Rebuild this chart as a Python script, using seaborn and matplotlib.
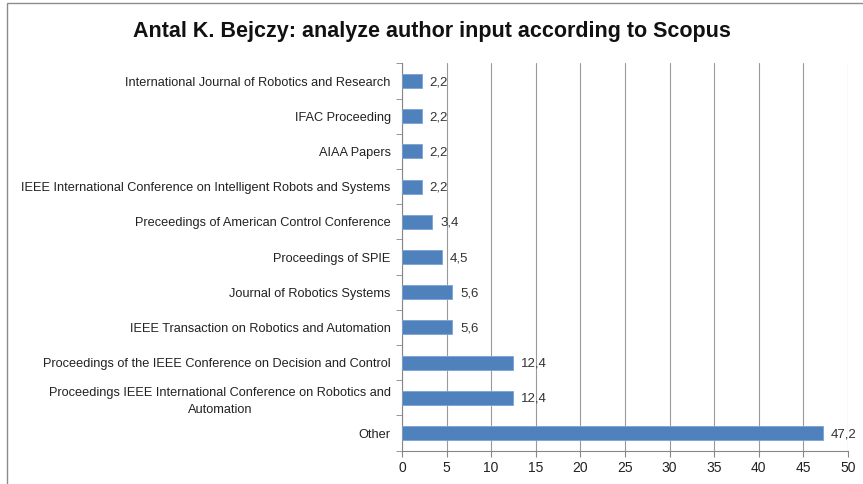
import pandas as pd
import seaborn as sns
import matplotlib.pyplot as plt
from matplotlib.patches import Rectangle

sources = [
    "International Journal of Robotics and Research",
    "IFAC Proceeding",
    "AIAA Papers",
    "IEEE International Conference on Intelligent Robots and Systems",
    "Preceedings of American Control Conference",
    "Proceedings of SPIE",
    "Journal of Robotics Systems",
    "IEEE Transaction on Robotics and Automation",
    "Proceedings of the IEEE Conference on Decision and Control",
    "Proceedings IEEE International Conference on Robotics and\nAutomation",
    "Other",
]
shares = [2.2, 2.2, 2.2, 2.2, 3.4, 4.5, 5.6, 5.6, 12.4, 12.4, 47.2]
x_ticks = [0, 5, 10, 15, 20, 25, 30, 35, 40, 45, 50]

sns.set_style("white")
plt.rcParams['font.family'] = ['Liberation Sans', 'DejaVu Sans']

df = pd.DataFrame({"source": sources, "share": shares})

fig = plt.figure(figsize=(8.63, 4.84), dpi=100)
ax = fig.add_axes([0.4658, 0.069, 0.5168, 0.8])

# outer chart frame like the spreadsheet export
fig.patches.append(Rectangle((0.008, -0.05), 1.2, 1.044, transform=fig.transFigure,
                             fill=False, edgecolor="#8c8c8c", linewidth=1.0))

sns.barplot(data=df, x="share", y="source", orient="h", color="#4F81BD", saturation=1,
            width=0.4, edgecolor="#7aa3d6", linewidth=0.6, ax=ax, zorder=3)

for i, v in enumerate(shares):
    ax.text(v + 0.9, i + 0.03, f"{v:.1f}".replace(".", ","), va="center", ha="left",
            fontsize=9.5, color="#333333")

ax.set_xlim(0, 50)
ax.set_ylim(len(sources) - 0.5, -0.5)
ax.set_xticks(x_ticks)
ax.set_xlabel("")
ax.set_ylabel("")
ax.grid(axis="x", color="#9a9a9a", linewidth=0.8, zorder=0)
ax.grid(axis="y", visible=False)

for s in ["top", "right"]:
    ax.spines[s].set_visible(False)
ax.spines["left"].set_color("#868686")
ax.spines["bottom"].set_color("#868686")

ax.tick_params(axis="x", labelsize=10, colors="#222222", length=4, direction="out",
               color="#868686", bottom=True)
ax.tick_params(axis="y", labelsize=9.2, colors="#222222", length=0, pad=8)
ax.set_yticks(range(len(sources)), minor=False)
ax.set_yticks([i - 0.5 for i in range(len(sources) + 1)], minor=True)
ax.tick_params(axis="y", which="minor", length=4, color="#868686", left=True)
for lab in ax.get_yticklabels():
    lab.set_multialignment("center")
    lab.set_linespacing(1.5)

fig.text(0.5, 0.935, "Antal K. Bejczy: analyze author input according to Scopus",
         ha="center", va="center", fontsize=15.5, fontweight="bold", color="#111111")

fig.savefig("out.png", dpi=100)
